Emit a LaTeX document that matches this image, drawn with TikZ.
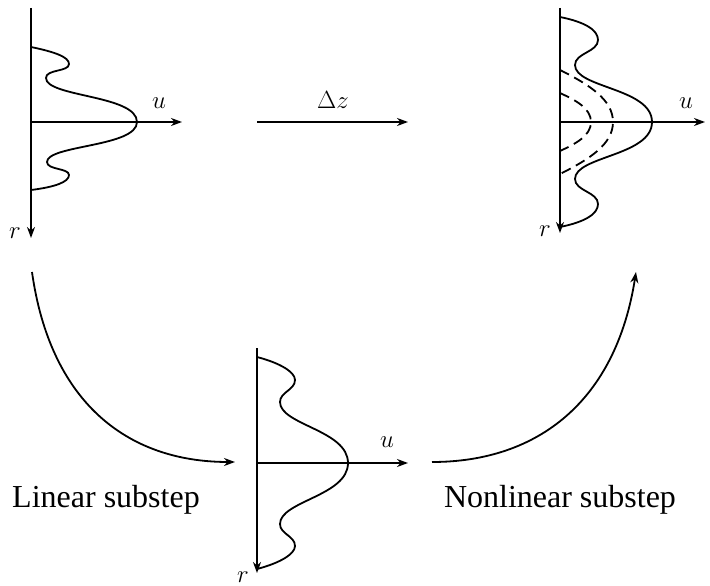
\documentclass[tikz,border=0pt]{standalone}
\usepackage{fontspec}
\setmainfont{Liberation Serif}
\usetikzlibrary{arrows.meta}
\begin{document}
\begin{tikzpicture}[x=1pt,y=-1pt,
  ln/.style={line width=1.8pt},
  ar/.style={ln,-{Stealth[length=11pt,width=8pt,inset=3.5pt]}},
  prof/.style={line width=1.8pt},
  dsh/.style={line width=1.8pt,dash pattern=on 10pt off 6pt},
  mlab/.style={inner sep=0pt,font=\fontsize{30}{34}\selectfont},
  tlab/.style={inner sep=0pt,font=\fontsize{32}{38}\selectfont}]
\useasboundingbox (0,0) rectangle (710,586);
% ---------- panel 1 ----------
\coordinate (p1top) at (31,8);
\coordinate (p1bot) at (31,238);
\coordinate (p1o) at (31,122);
\coordinate (p1u) at (182,122);
\draw[ar] (p1top) -- (p1bot);
\draw[ar] (p1o) -- (p1u);
\draw[prof] (31,47) .. controls (55,52) and (69,57) .. (69,64)
  .. controls (69,72) and (46,69) .. (46,78)
  .. controls (46,97) and (137,95) .. (137,122)
  .. controls (137,147) and (47,145) .. (47,162)
  .. controls (47,170) and (69,168) .. (69,175)
  .. controls (69,182) and (55,187) .. (31,190);
\node[mlab] (u1) at (159,103) {$u$};
\node[mlab] (r1) at (15,233) {$r$};
% ---------- panel 2 ----------
\coordinate (p2top) at (560,8);
\coordinate (p2bot) at (560,233);
\coordinate (p2o) at (560,122);
\coordinate (p2u) at (705,122);
\draw[ar] (p2top) -- (p2bot);
\draw[ar] (p2o) -- (p2u);
\draw[prof] (560,17) .. controls (585,22) and (598,30) .. (598,40)
  .. controls (598,52) and (575,53) .. (575,65)
  .. controls (575,88) and (652,88) .. (652,122)
  .. controls (652,156) and (575,156) .. (575,179)
  .. controls (575,191) and (598,192) .. (598,204)
  .. controls (598,214) and (585,222) .. (560,227);
\draw[dsh] (560,70) .. controls (590,85) and (613,100) .. (613,122)
  .. controls (613,144) and (590,159) .. (560,174);
\draw[dsh] (560,93) .. controls (575,100) and (591,108) .. (591,122)
  .. controls (591,136) and (575,144) .. (560,151);
\node[mlab] (u2) at (686,103) {$u$};
\node[mlab] (r2) at (545,231) {$r$};
% ---------- panel 3 ----------
\coordinate (p3top) at (257,348);
\coordinate (p3bot) at (257,573);
\coordinate (p3o) at (257,463);
\coordinate (p3u) at (408,463);
\draw[ar] (p3top) -- (p3bot);
\draw[ar] (p3o) -- (p3u);
\draw[prof] (257,357) .. controls (280,363) and (295,372) .. (295,380)
  .. controls (295,390) and (280,392) .. (280,402)
  .. controls (280,425) and (348,430) .. (348,463)
  .. controls (348,496) and (280,501) .. (280,524)
  .. controls (280,534) and (295,536) .. (295,546)
  .. controls (295,554) and (280,563) .. (257,569);
\node[mlab] (u3) at (387,442) {$u$};
\node[mlab] (r3) at (243,577) {$r$};
% ---------- step arrows ----------
\coordinate (dzs) at (257,122);
\coordinate (dze) at (408,122);
\draw[ar] (dzs) -- (dze);
\node[mlab] (dz) at (333,100) {$\Delta z$};
\coordinate (ls) at (32,272);
\coordinate (le) at (235,462);
\draw[ar] (ls) .. controls (50,400) and (125,462) .. (le);
\coordinate (ns) at (432,462);
\coordinate (ne) at (636,272);
\draw[ar] (ns) .. controls (539,462) and (616,400) .. (ne);
\node[tlab,anchor=base] (lin) at (106,507) {Linear substep};
\node[tlab,anchor=base] (nonlin) at (560,507) {Nonlinear substep};
\end{tikzpicture}
\end{document}
